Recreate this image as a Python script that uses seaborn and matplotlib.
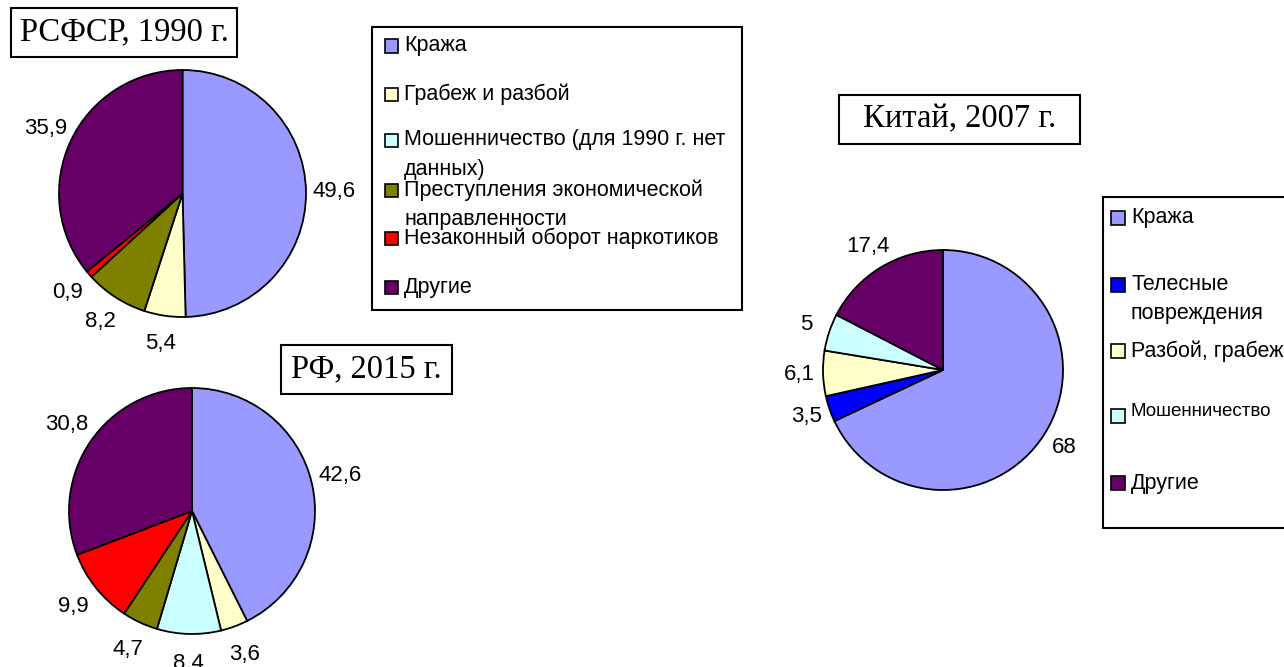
import numpy as np
import pandas as pd
import seaborn as sns
import matplotlib.pyplot as plt
from matplotlib.patches import Rectangle

sns.set_style("white")
plt.rcParams['font.family'] = ['Liberation Sans', 'DejaVu Sans']
plt.rcParams['text.color'] = 'black'

# categories for Russia (1990 / 2015)
cat_ru = ["Кража", "Грабеж и разбой", "Мошенничество (для 1990 г. нет\nданных)",
          "Преступления экономической\nнаправленности", "Незаконный оборот наркотиков", "Другие"]
colors_ru = ["#9999FF", "#FFFFCC", "#CCFFFF", "#808000", "#FF0000", "#660066"]
rsfsr_1990 = [49.6, 5.4, 0, 8.2, 0.9, 35.9]   # no data for fraud in 1990
rf_2015 = [42.6, 3.6, 8.4, 4.7, 9.9, 30.8]

# categories for China 2007
cat_cn = ["Кража", "Телесные\nповреждения", "Разбой, грабеж", "Мошенничество", "Другие"]
colors_cn = ["#9999FF", "#0000FF", "#FFFFCC", "#CCFFFF", "#660066"]
china_2007 = [68, 3.5, 6.1, 5, 17.4]

W, H = 1284, 667
fig = plt.figure(figsize=(W / 100, H / 100), dpi=100)


def fx(x):
    return x / W


def fy(y):
    return 1 - y / H


def pie_at(cx, cy, r, values, colors, dist):
    pad = 1.05
    side = 2 * r * pad
    ax = fig.add_axes([(cx - side / 2) / W, (H - cy - side / 2) / H, side / W, side / H])
    df = pd.DataFrame({"v": values, "c": colors})
    df = df[df.v > 0]
    labels = [f"{v:g}".replace('.', ',') for v in df.v]
    wedges, texts = ax.pie(df.v, colors=df.c, labels=labels, startangle=90, counterclock=False,
                           labeldistance=dist, radius=1,
                           wedgeprops=dict(edgecolor='black', linewidth=1.3),
                           textprops=dict(fontsize=16, color='black'))
    for t in texts:
        t.set_ha('center')
    ax.set_xlim(-pad, pad)
    ax.set_ylim(-pad, pad)
    ax.set_aspect('equal')
    ax.axis('off')
    return ax


def title_box(x0, y0, x1, y1, text):
    fig.patches.append(Rectangle((fx(x0), fy(y1)), fx(x1 - x0), (y1 - y0) / H,
                                 transform=fig.transFigure, fc='white', ec='black', lw=1.5))
    fig.text(fx((x0 + x1) / 2), fy((y0 + y1) / 2), text, ha='center', va='center',
             fontsize=23.5, family='Liberation Serif')


def legend_box(x0, y0, x1, y1, labels, colors, rows, gap, sq_x, tx_x, sq=13, sizes=None, sq_dy=None):
    fig.patches.append(Rectangle((fx(x0), fy(y1)), fx(x1 - x0), (y1 - y0) / H,
                                 transform=fig.transFigure, fc='white', ec='black', lw=1.5))
    for i, (lab, col, ry) in enumerate(zip(labels, colors, rows)):
        fs = sizes[i] if sizes else 15.5
        dy = sq_dy[i] if sq_dy else 0
        fig.patches.append(Rectangle((fx(sq_x), fy(ry + dy + sq / 2)), fx(sq), sq / H,
                                     transform=fig.transFigure, fc=col, ec='black', lw=1.2))
        for j, line in enumerate(lab.split('\n')):
            fig.text(fx(tx_x), fy(ry + j * gap), line, ha='left', va='center', fontsize=fs)


pie_at(182.5, 193.5, 123.5, rsfsr_1990, colors_ru, 1.23)
pie_at(192, 511, 123, rf_2015, colors_ru, 1.24)
pie_at(943, 370, 120, china_2007, colors_cn, 1.2)

title_box(11, 8, 237, 57, "РСФСР, 1990 г.")
title_box(281, 345, 452, 394, "РФ, 2015 г.")
title_box(839, 95, 1080, 144, "Китай, 2007 г.")

legend_box(372, 27, 742, 310, cat_ru, colors_ru, [46, 94, 140, 190, 238, 287], 29,
           sq_x=385, tx_x=404)
legend_box(1103, 197, 1300, 528, cat_cn, colors_cn, [218, 285, 351, 412, 483], 28,
           sq_x=1111, tx_x=1131, sq=14, sizes=[15.5, 15.5, 15.5, 13.5, 15.5], sq_dy=[0, 0, 0, 4, 0])

fig.savefig("out.png", dpi=100)
